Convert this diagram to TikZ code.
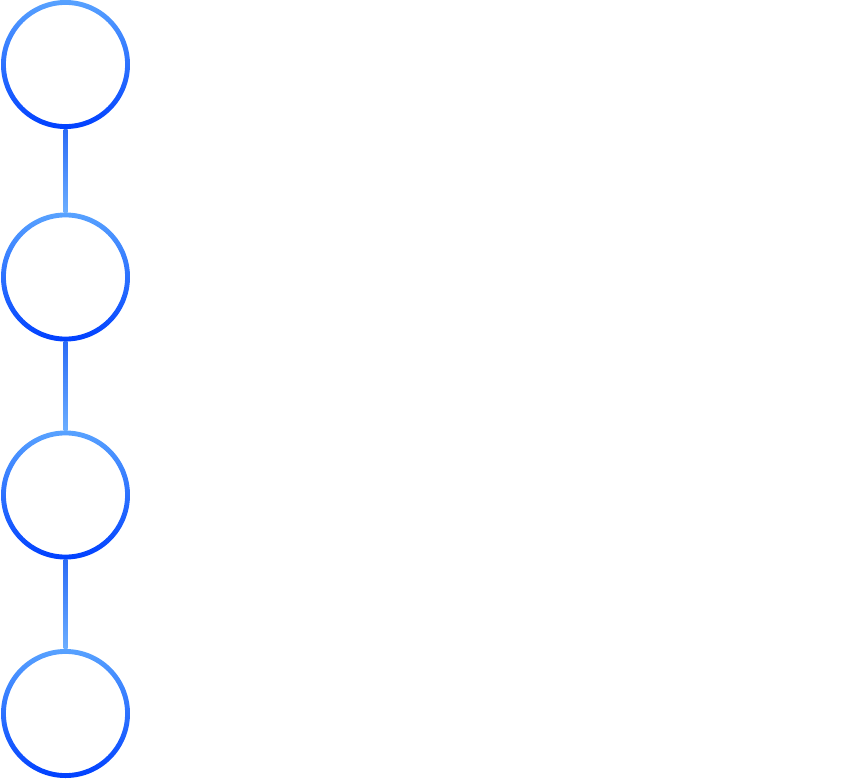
\documentclass[tikz,border=0pt]{standalone}
\definecolor{blite}{RGB}{88,162,255}
\definecolor{bdeep}{RGB}{0,64,255}
\definecolor{lnlite}{RGB}{108,174,255}
\definecolor{lndeep}{RGB}{44,108,246}

\begin{document}
\begin{tikzpicture}[x=1pt, y=-1pt,
    stage/.style={circle, minimum size=129pt, inner sep=0pt}]
  \useasboundingbox (0,0) rectangle (866,781);
  % --- stage circles ---
  \foreach \n/\y in {1/64.5, 2/277, 3/495, 4/713.5} {
      \node[stage] (s\n) at (65.5,\y) {};
      \shade[top color=blite, bottom color=bdeep, even odd rule]
        (s\n.center) circle[radius=64.5pt] (s\n.center) circle[radius=59.6pt];
    }

  % --- links between stages ---
  \foreach \a/\b in {1/2, 2/3, 3/4} {
      \shade[top color=lndeep, bottom color=lnlite]
        ([xshift=-2pt]s\a.south) rectangle ([xshift=2pt]s\b.north);
    }
\end{tikzpicture}
\end{document}
